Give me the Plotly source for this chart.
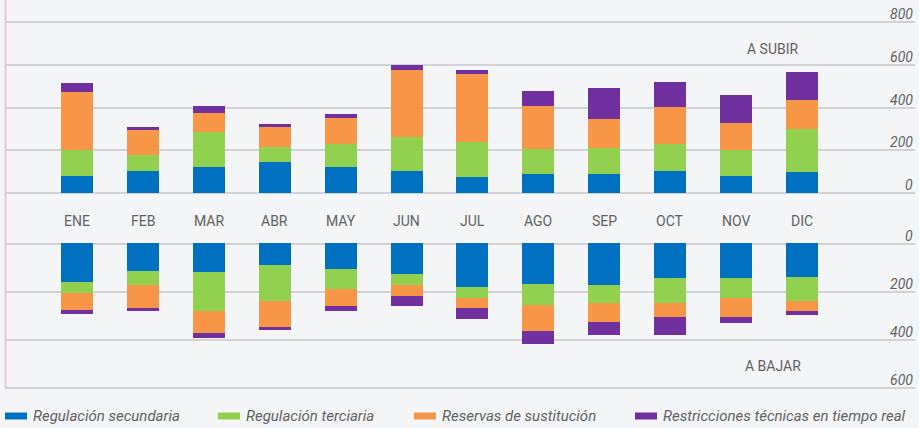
import plotly.graph_objects as go

months = ["ENE", "FEB", "MAR", "ABR", "MAY", "JUN", "JUL", "AGO", "SEP", "OCT", "NOV", "DIC"]

series_names = ["Regulación secundaria", "Regulación terciaria",
                "Reservas de sustitución", "Restricciones técnicas en tiempo real"]
series_colors = ["#0070c0", "#92d050", "#f79646", "#7030a0"]

# A SUBIR (upward)
up_sec = [80, 103, 122, 145, 122, 103, 75, 89, 89, 103, 80, 98]
up_ter = [121, 75, 163, 70, 109, 159, 165, 115, 121, 126, 121, 201]
up_sus = [271, 117, 89, 94, 120, 313, 317, 203, 136, 173, 126, 136]
up_rt = [42, 14, 33, 14, 18, 24, 18, 70, 145, 117, 131, 131]

# A BAJAR (downward)
down_sec = [159, 114, 118, 89, 105, 126, 180, 168, 172, 143, 143, 139]
down_ter = [49, 61, 162, 149, 83, 46, 45, 87, 77, 106, 82, 102]
down_sus = [68, 92, 91, 113, 71, 46, 42, 108, 77, 56, 80, 39]
down_rt = [16, 13, 21, 8, 21, 41, 46, 54, 54, 75, 25, 17]

up_ticks = [0, 200, 400, 600, 800]
down_ticks = [0, 200, 400, 600]

W, H = 919, 428
BG = "#f4f5f7"
GRID = "#d3d3d6"
TXT = "#626262"
FONT = "Roboto"

def py(p):  # pixel y -> paper
    return 1 - p / H

def px(p):  # pixel x -> paper
    return p / W

# pixel mapping of the two value axes
UP0, UP800 = 193.0, 22.3
up_s = (UP0 - UP800) / 800.0
DN0, DN600 = 243.7, 388.0
dn_s = (DN600 - DN0) / 600.0
PAD = 10  # value padding so edge gridlines are drawn

x = list(range(len(months)))
fig = go.Figure()

for name, color, vals in zip(series_names, series_colors, [up_sec, up_ter, up_sus, up_rt]):
    fig.add_trace(go.Bar(x=x, y=vals, name=name, marker_color=color, marker_line_width=0,
                         width=0.486, xaxis="x", yaxis="y", showlegend=False))
for name, color, vals in zip(series_names, series_colors, [down_sec, down_ter, down_sus, down_rt]):
    fig.add_trace(go.Bar(x=x, y=vals, name=name, marker_color=color, marker_line_width=0,
                         width=0.486, xaxis="x2", yaxis="y2", showlegend=False))

xdom = [px(5), px(915)]
xrng = [-1.093, 12.716]

annotations = []
for v in up_ticks:
    annotations.append(dict(x=px(915), xref="paper", xanchor="right", y=v, yref="y",
                            yanchor="middle", yshift=8, text=str(v), showarrow=False,
                            font=dict(family=FONT, size=14, color=TXT, style="italic")))
for v in down_ticks:
    annotations.append(dict(x=px(915), xref="paper", xanchor="right", y=v, yref="y2",
                            yanchor="middle", yshift=8, text=str(v), showarrow=False,
                            font=dict(family=FONT, size=14, color=TXT, style="italic")))
for i, m in enumerate(months):
    annotations.append(dict(x=i, xref="x2", xanchor="center", y=py(221), yref="paper",
                            yanchor="middle", text=m, showarrow=False,
                            font=dict(family=FONT, size=14, color=TXT)))
annotations.append(dict(x=px(773), xref="paper", xanchor="center", y=py(49), yref="paper",
                        yanchor="middle", text="A SUBIR", showarrow=False,
                        font=dict(family=FONT, size=14, color=TXT)))
annotations.append(dict(x=px(773), xref="paper", xanchor="center", y=py(366), yref="paper",
                        yanchor="middle", text="A BAJAR", showarrow=False,
                        font=dict(family=FONT, size=14, color=TXT)))

shapes = [dict(type="line", xref="paper", yref="paper", x0=px(5.5), x1=px(5.5),
               y0=py(388), y1=1, line=dict(color="#e2c8da", width=2))]

legend_x = [5, 218, 414, 635]
for lx, name, color in zip(legend_x, series_names, series_colors):
    shapes.append(dict(type="rect", xref="paper", yref="paper",
                       x0=px(lx), x1=px(lx + 22), y0=py(419.5), y1=py(412.5),
                       fillcolor=color, line=dict(width=0)))
    annotations.append(dict(x=px(lx + 26), xref="paper", xanchor="left", y=py(416),
                            yref="paper", yanchor="middle", text=name, showarrow=False,
                            font=dict(family=FONT, size=15, color=TXT, style="italic")))

fig.update_layout(
    width=W, height=H,
    margin=dict(l=0, r=0, t=0, b=0),
    paper_bgcolor=BG, plot_bgcolor=BG,
    barmode="relative", bargap=0,
    showlegend=False,
    xaxis=dict(domain=xdom, range=xrng, anchor="y", showticklabels=False,
               showgrid=False, zeroline=False, showline=False, fixedrange=True),
    xaxis2=dict(domain=xdom, range=xrng, anchor="y2", showticklabels=False,
                showgrid=False, zeroline=False, showline=False, fixedrange=True),
    yaxis=dict(domain=[py(UP0 + PAD * up_s), py(UP800 - PAD * up_s)],
               range=[-PAD, 800 + PAD], anchor="x",
               tickvals=up_ticks, showticklabels=False, showgrid=True,
               gridcolor=GRID, gridwidth=1.5, zeroline=False, showline=False),
    yaxis2=dict(domain=[py(DN600 + PAD * dn_s), py(DN0 - PAD * dn_s)],
                range=[600 + PAD, -PAD], anchor="x2",
                tickvals=down_ticks, showticklabels=False, showgrid=True,
                gridcolor=GRID, gridwidth=1.5, zeroline=False, showline=False),
    annotations=annotations,
    shapes=shapes,
)

fig.write_html("out.html", config={"displayModeBar": False},
               post_script="document.body.style.margin='0';")
